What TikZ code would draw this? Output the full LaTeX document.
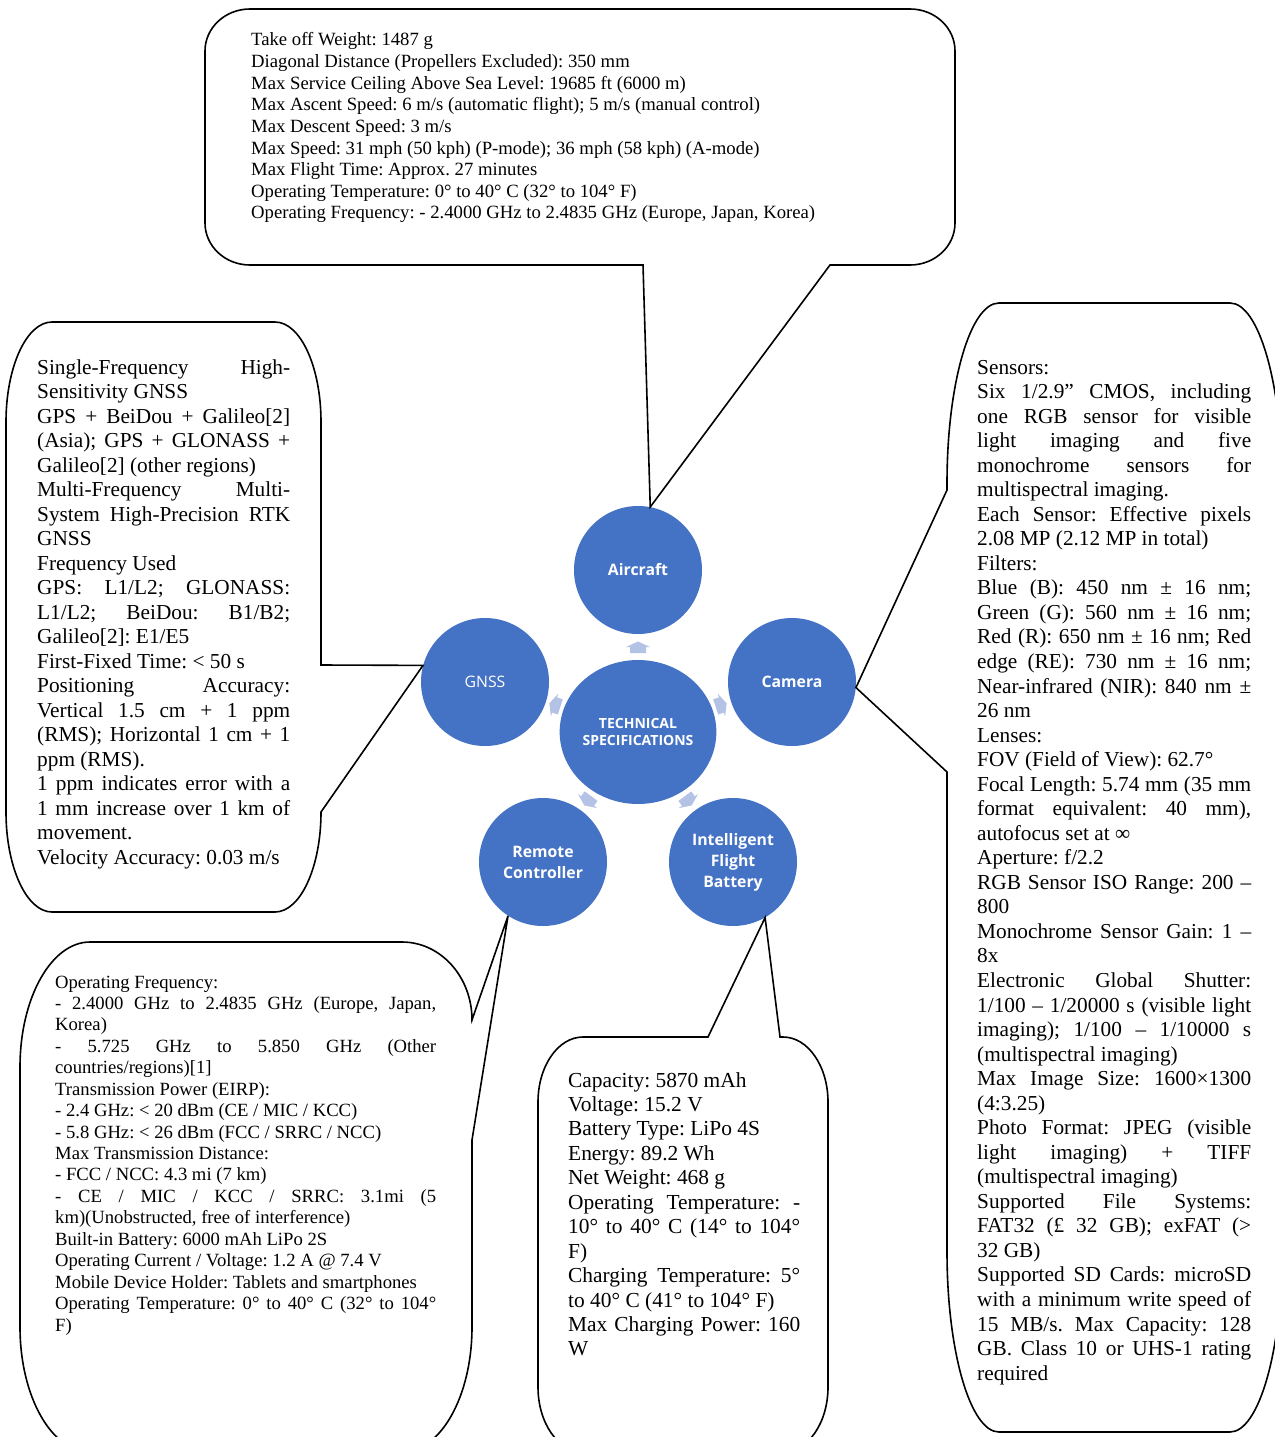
\documentclass[tikz,border=0pt]{standalone}
\usepackage{fontspec}
\setmainfont{Liberation Serif}
\newfontfamily\osans{Open Sans}
\usetikzlibrary{shapes.geometric}
\definecolor{cblue}{HTML}{4472C4}
\definecolor{carrow}{HTML}{B4C3E5}
\newcommand\jline[1]{\hbox to\linewidth{#1}}
\newcommand\rline[1]{\hbox{#1}}
\frenchspacing
\begin{document}
\begin{tikzpicture}[x=1pt,y=-1pt,
  callout/.style={draw=black,line width=1.6pt,fill=white,line join=miter},
  bubble/.style={circle,fill=cblue,text=white,minimum size=128pt,inner sep=0pt,align=center,
    font=\osans\bfseries\fontsize{15.8}{21}\selectfont},
  hub/.style={ellipse,fill=cblue,text=white,minimum width=156pt,minimum height=144pt,inner sep=0pt,align=center,
    font=\osans\bfseries\fontsize{14}{17.3}\selectfont},
  spec/.style={anchor=base west,inner sep=0pt,text=black},
  flow/.style={fill=carrow,draw=none}]
\fill[white] (0,0) rectangle (1274,1437);
\useasboundingbox (0,0) rectangle (1274,1437);

% circles
\node[hub] (tech) at (638,732) {TECHNICAL\\SPECIFICATIONS};
\node[bubble] (air) at (638,570) {Aircraft};
\node[bubble] (cam) at (792,682) {Camera};
\node[bubble,font=\osans\fontsize{15.8}{21}\selectfont] (gnss) at (485,682) {GNSS};
\node[bubble] (rem) at (543,862) {Remote\\Controller};
\node[bubble] (bat) at (733,862) {Intelligent\\Flight\\Battery};

% small block arrows
\foreach \px/\py/\ang in {638/647/90, 721.4/705/18, 554.6/705/162, 688.4/801/-53.8, 587.6/801/-126.2}{
  \fill[flow,shift={(\px,\py)},rotate=\ang] (-6,-8) -- (0,-8) -- (0,-12) -- (5.5,0) -- (0,12) -- (0,8) -- (-6,8) -- cycle;
}

% callouts
\draw[callout] (250,9) -- (910,9) .. controls (934.9,9) and (955,27.8) .. (955,51) -- (955,223)
  .. controls (955,246.2) and (934.9,265) .. (910,265) -- (830,265) -- (air.79) -- (643,265) -- (250,265)
  .. controls (225.1,265) and (205,246.2) .. (205,223) -- (205,51) .. controls (205,27.8) and (225.1,9) .. (250,9) -- cycle;

\draw[callout] (52,322) -- (275,322) .. controls (300.4,322) and (321,366.8) .. (321,422) -- (321,665)
  -- (gnss.165) -- (321,812) .. controls (321,867.2) and (300.4,912) .. (275,912) -- (52,912)
  .. controls (26.6,912) and (6,867.2) .. (6,812) -- (6,422) .. controls (6,366.8) and (26.6,322) .. (52,322) -- cycle;

\draw[callout] (999,303) -- (1230,303) .. controls (1258.7,303) and (1282,383.6) .. (1282,483) -- (1282,1252)
  .. controls (1282,1351.4) and (1258.7,1432) .. (1230,1432) -- (999,1432)
  .. controls (970.3,1432) and (947,1351.4) .. (947,1252) -- (947,772) -- (cam.-5) -- (947,490) -- (947,483)
  .. controls (947,383.6) and (970.3,303) .. (999,303) -- cycle;

\draw[callout] (90,942) -- (402,942) .. controls (440.7,942) and (472,976.9) .. (472,1020) -- (rem.-123.4)
  -- (472,1140) -- (472,1327) .. controls (472,1396) and (440.7,1452) .. (402,1452) -- (90,1452)
  .. controls (51.3,1452) and (20,1396) .. (20,1327) -- (20,1067) .. controls (20,998) and (51.3,942) .. (90,942) -- cycle;

\draw[callout] (583,1037) -- (708,1037) -- (bat.-60) -- (780,1037) -- (783,1037)
  .. controls (807.9,1037) and (828,1066.1) .. (828,1102) -- (828,1387)
  .. controls (828,1422.9) and (807.9,1452) .. (783,1452) -- (583,1452)
  .. controls (558.1,1452) and (538,1422.9) .. (538,1387) -- (538,1102)
  .. controls (538,1066.1) and (558.1,1037) .. (583,1037) -- cycle;

% texts
\node[spec] (airtxt) at (251,46) {\parbox[t]{700pt}{\fontsize{18.7}{21.6}\selectfont
\rline{Take off Weight: 1487 g}
\rline{Diagonal Distance (Propellers Excluded): 350 mm}
\rline{Max Service Ceiling Above Sea Level: 19685 ft (6000 m)}
\rline{Max Ascent Speed: 6 m/s (automatic flight); 5 m/s (manual control)}
\rline{Max Descent Speed: 3 m/s}
\rline{Max Speed: 31 mph (50 kph) (P-mode); 36 mph (58 kph) (A-mode)}
\rline{Max Flight Time: Approx. 27 minutes}
\rline{Operating Temperature: 0° to 40° C (32° to 104° F)}
\rline{Operating Frequency: - 2.4000 GHz to 2.4835 GHz (Europe, Japan, Korea)}}};

\node[spec] (gnsstxt) at (37,374) {\parbox[t]{253pt}{\fontsize{21.3}{24.5}\selectfont
\jline{Single-Frequency High-}
\rline{Sensitivity GNSS}
\jline{GPS + BeiDou + Galileo[2]}
\jline{(Asia); GPS + GLONASS +}
\rline{Galileo[2] (other regions)}
\jline{Multi-Frequency Multi-}
\jline{System High-Precision RTK}
\rline{GNSS}
\rline{Frequency Used}
\jline{GPS: L1/L2; GLONASS:}
\jline{L1/L2; BeiDou: B1/B2;}
\rline{Galileo[2]: E1/E5}
\rline{First-Fixed Time: < 50 s}
\jline{Positioning Accuracy:}
\jline{Vertical 1.5 cm + 1 ppm}
\jline{(RMS); Horizontal 1 cm + 1}
\rline{ppm (RMS).}
\jline{1 ppm indicates error with a}
\jline{1 mm increase over 1 km of}
\rline{movement.}
\rline{Velocity Accuracy: 0.03 m/s}}};

\node[spec] (camtxt) at (977,374) {\parbox[t]{274pt}{\fontsize{21.3}{24.54}\selectfont
\rline{Sensors:}
\jline{Six 1/2.9” CMOS, including}
\jline{one RGB sensor for visible}
\jline{light imaging and five}
\jline{monochrome sensors for}
\rline{multispectral imaging.}
\jline{Each Sensor: Effective pixels}
\rline{2.08 MP (2.12 MP in total)}
\rline{Filters:}
\jline{Blue (B): 450 nm ± 16 nm;}
\jline{Green (G): 560 nm ± 16 nm;}
\jline{Red (R): 650 nm ± 16 nm; Red}
\jline{edge (RE): 730 nm ± 16 nm;}
\jline{Near-infrared (NIR): 840 nm ±}
\rline{26 nm}
\rline{Lenses:}
\rline{FOV (Field of View): 62.7°}
\jline{Focal Length: 5.74 mm (35 mm}
\jline{format equivalent: 40 mm),}
\rline{autofocus set at ∞}
\rline{Aperture: f/2.2}
\jline{RGB Sensor ISO Range: 200 –}
\rline{800}
\jline{Monochrome Sensor Gain: 1 –}
\rline{8x}
\jline{Electronic Global Shutter:}
\jline{1/100 – 1/20000 s (visible light}
\jline{imaging); 1/100 – 1/10000 s}
\rline{(multispectral imaging)}
\jline{Max Image Size: 1600×1300}
\rline{(4:3.25)}
\jline{Photo Format: JPEG (visible}
\jline{light imaging) + TIFF}
\rline{(multispectral imaging)}
\jline{Supported File Systems:}
\jline{FAT32 (£ 32 GB); exFAT (>}
\rline{32 GB)}
\jline{Supported SD Cards: microSD}
\jline{with a minimum write speed of}
\jline{15 MB/s. Max Capacity: 128}
\jline{GB. Class 10 or UHS-1 rating}
\rline{required}}};

\node[spec] (remtxt) at (55,988) {\parbox[t]{381pt}{\fontsize{18.65}{21.44}\selectfont
\rline{Operating Frequency:}
\jline{- 2.4000 GHz to 2.4835 GHz (Europe, Japan,}
\rline{Korea)}
\jline{- 5.725 GHz to 5.850 GHz (Other}
\rline{countries/regions)[1]}
\rline{Transmission Power (EIRP):}
\rline{- 2.4 GHz: < 20 dBm (CE / MIC / KCC)}
\rline{- 5.8 GHz: < 26 dBm (FCC / SRRC / NCC)}
\rline{Max Transmission Distance:}
\rline{- FCC / NCC: 4.3 mi (7 km)}
\jline{- CE / MIC / KCC / SRRC: 3.1mi (5}
\rline{km)(Unobstructed, free of interference)}
\rline{Built-in Battery: 6000 mAh LiPo 2S}
\rline{Operating Current / Voltage: 1.2 A @ 7.4 V}
\rline{Mobile Device Holder: Tablets and smartphones}
\jline{Operating Temperature: 0° to 40° C (32° to 104°}
\rline{F)}}};

\node[spec] (battxt) at (568,1087) {\parbox[t]{232pt}{\fontsize{21.4}{24.45}\selectfont
\rline{Capacity: 5870 mAh}
\rline{Voltage: 15.2 V}
\rline{Battery Type: LiPo 4S}
\rline{Energy: 89.2 Wh}
\rline{Net Weight: 468 g}
\jline{Operating Temperature: -}
\jline{10° to 40° C (14° to 104°}
\rline{F)}
\jline{Charging Temperature: 5°}
\rline{to 40° C (41° to 104° F)}
\jline{Max Charging Power: 160}
\rline{W}}};
\end{tikzpicture}
\end{document}
